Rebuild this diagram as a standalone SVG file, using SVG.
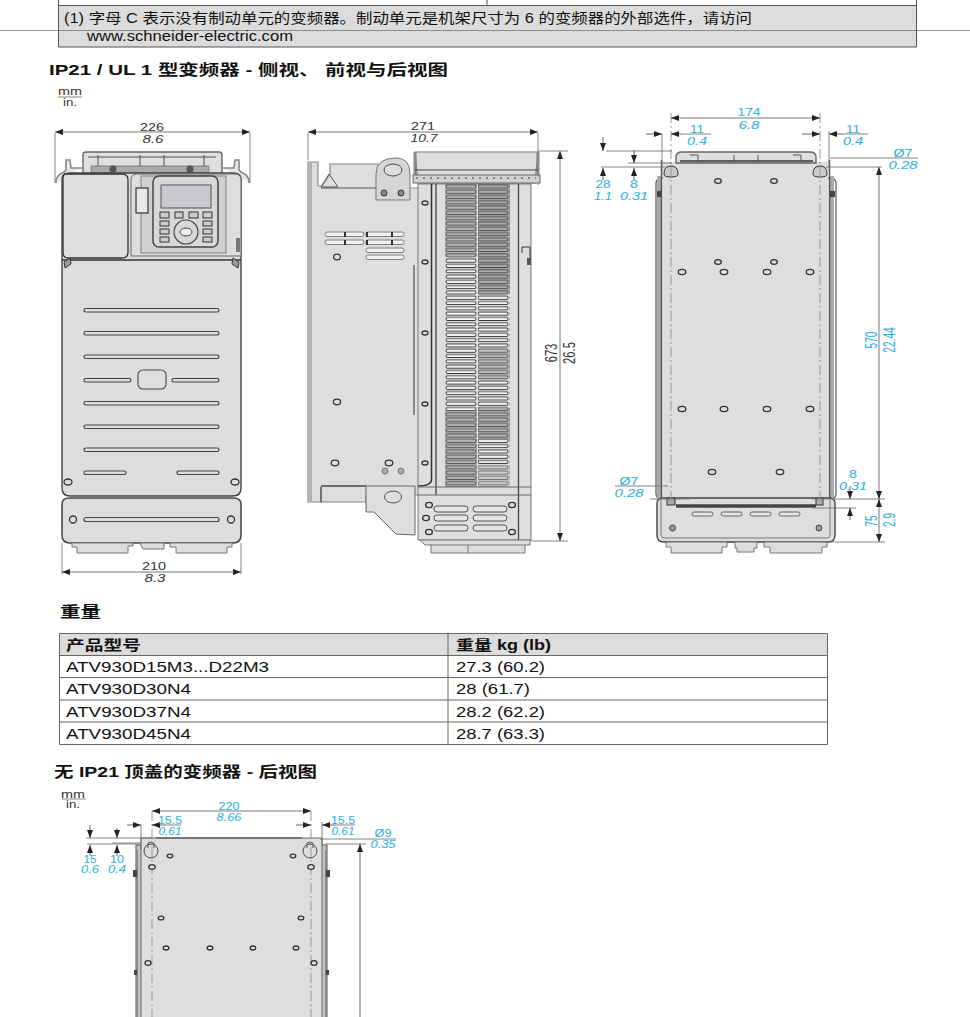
<svg xmlns="http://www.w3.org/2000/svg" width="970" height="1017" viewBox="0 0 970 1017">
<style>
text{font-family:"Liberation Sans","Noto Sans CJK SC",sans-serif;fill:#111}
.h{font-size:15px;font-weight:700}
.t{font-size:14px}
.tb{font-size:14px;font-weight:700}
.d{font-size:11px;text-anchor:middle;fill:#333}
.s{font-size:10.5px}
.i{font-style:italic}
.b{fill:#29aee3}
.u{font-size:11px;text-anchor:middle;fill:#333}
.v{font-size:16.5px;text-anchor:middle;fill:#333}
.vb{fill:#29aee3}
.dl{stroke:#777;stroke-width:.9;fill:none}
.ln{stroke:#555;stroke-width:1;fill:none}
.p{fill:#dcddde;stroke:#444;stroke-width:1}
.w{fill:#f0f0f0;stroke:#666;stroke-width:.8}
.dash{stroke:#999;stroke-width:1;stroke-dasharray:10 3 2 3;fill:none}
.slot{fill:#dcdee0;stroke:#444;stroke-width:1.2}
.hole{fill:#dcdee0;stroke:#333;stroke-width:1.3}
.key{fill:#ccc;stroke:#333;stroke-width:1}
.a{stroke:#555;stroke-width:.9;fill:none;marker-end:url(#ar)}
.aa{stroke:#666;stroke-width:.9;fill:none;marker-start:url(#ar);marker-end:url(#ar)}
</style>
<defs>
<marker id="ar" markerWidth="8" markerHeight="6" refX="8" refY="3" orient="auto-start-reverse" markerUnits="userSpaceOnUse"><path d="M0 0L8 3L0 6Z" fill="#222"/></marker>
<pattern id="louv" width="32" height="5.3" patternUnits="userSpaceOnUse" x="445" y="184"><rect x="1" y=".9" width="30" height="3" rx="1.5" fill="#f4f4f4" stroke="#333" stroke-width=".9"/></pattern>
</defs>

<g id="note-box">
<rect x="58" y="5" width="859" height="42" fill="#dcdcdc"/>
<path d="M0 30.5H970" stroke="#777" stroke-width=".8" fill="none"/>
<path d="M58.5 0V47H916.5V0M58 5.5H917M487 0V5" stroke="#555" stroke-width="1" fill="none"/>
<text class="t" x="64" y="23" textLength="688" lengthAdjust="spacingAndGlyphs">(1) 字母 C 表示没有制动单元的变频器。制动单元是机架尺寸为 6 的变频器的外部选件，请访问</text>
<text class="t" x="87" y="41" textLength="206" lengthAdjust="spacingAndGlyphs">www.schneider-electric.com</text>
</g>

<g id="heading-1">
<text class="h" x="49" y="75" textLength="399" lengthAdjust="spacingAndGlyphs">IP21 / UL 1 型变频器 - 侧视、 前视与后视图</text>
<text class="u" x="70" y="95" textLength="24" lengthAdjust="spacingAndGlyphs">mm</text><path d="M58 97H82" class="dl"/><text class="u" x="70" y="106" textLength="14" lengthAdjust="spacingAndGlyphs">in.</text>
</g>

<g id="front-view">
<path d="M55 133V183M250 133V183M62 543V574M241 543V574" class="dl"/>
<path d="M55 132H250" class="aa"/><path d="M62 572H241" class="aa"/>
<text class="d" x="152" y="131" textLength="24" lengthAdjust="spacingAndGlyphs">226</text><text class="d i" x="153" y="143" textLength="21" lengthAdjust="spacingAndGlyphs">8.6</text>
<text class="d" x="154" y="570" textLength="24" lengthAdjust="spacingAndGlyphs">210</text><text class="d i" x="155" y="582" textLength="21" lengthAdjust="spacingAndGlyphs">8.3</text>
<rect x="83" y="152" width="139" height="22" rx="3" fill="#dcdee0" stroke="#666" stroke-width="1.4"/>
<path d="M88 157H216M98 155V172M140 155V172M164 155V172M204 155V172" class="ln"/>
<path d="M56 183Q55 176 64 172L66 170V160H70L71 168H82M249 183Q250 176 241 172L239 170V160H235L234 168H223" fill="#e8e8e8" stroke="#888" stroke-width="1.6"/>
<rect x="91" y="166" width="118" height="7" fill="#aaa" stroke="#555" stroke-width=".6"/>
<circle cx="113" cy="169" r="3.6" fill="#555"/><circle cx="190" cy="169" r="3.6" fill="#555"/>
<path d="M62 179Q62 173 70 173H233Q241 173 241 179V488Q241 496 233 496H70Q62 496 62 488Z" class="p" style="stroke-width:1.4"/>
<path d="M66 174H122Q128 174 128 180V252Q128 258 122 258H68Q63 258 63 252V178Q63 174 66 174Z" fill="#dcdee0" stroke="#333" stroke-width="1.3"/>
<path d="M62 260H241" stroke="#333" stroke-width="1.5" fill="none"/>
<path d="M131 180Q131 174 137 174H235Q241 174 241 180V256H131Z" fill="#dcdee0" stroke="#666"/>
<rect x="141" y="176" width="85" height="77" fill="#d0d0d0" stroke="#666" stroke-width=".8"/>
<rect x="136" y="188" width="12" height="25" fill="#e8e8e8" stroke="#333" stroke-width="1.2"/>
<rect x="153" y="176" width="65" height="71" rx="6" fill="#d6d8da" stroke="#444" stroke-width="1.5"/>
<rect x="161" y="185" width="50" height="23" fill="#c8cacd" stroke="#555"/>
<rect class="key" x="160" y="212" width="9" height="6"/><rect class="key" x="175" y="212" width="8" height="6"/><rect class="key" x="189" y="212" width="9" height="6"/><rect class="key" x="203" y="212" width="9" height="6"/>
<rect class="key" x="160" y="221" width="9" height="5"/><rect class="key" x="160" y="229" width="9" height="5"/><rect class="key" x="160" y="237" width="9" height="5"/>
<rect class="key" x="203" y="221" width="9" height="5"/><rect class="key" x="203" y="229" width="9" height="5"/><rect class="key" x="203" y="237" width="9" height="5"/>
<circle cx="186" cy="232" r="12" fill="#d6d8da" stroke="#444" stroke-width="1.2"/><ellipse cx="186" cy="232" rx="6" ry="4" fill="#eee" stroke="#444"/>
<rect x="236" y="238" width="4" height="14" fill="#777"/>
<path d="M64 262L70 258 71 264 65 268ZM239 262L233 258 232 264 238 268Z" fill="#999" stroke="#333"/>
<g class="slot"><rect x="84" y="308.500" width="135" height="3.500" rx="1.700"/><rect x="84" y="331.500" width="135" height="3.500" rx="1.700"/><rect x="84" y="355" width="135" height="3.500" rx="1.700"/><rect x="84" y="378.500" width="47" height="3.500" rx="1.700"/><rect x="172" y="378.500" width="47" height="3.500" rx="1.700"/><rect x="84" y="401.500" width="135" height="3.500" rx="1.700"/><rect x="84" y="425" width="135" height="3.500" rx="1.700"/><rect x="84" y="448" width="135" height="3.500" rx="1.700"/><rect x="84" y="471" width="42" height="3.500" rx="1.700"/><rect x="177" y="471" width="42" height="3.500" rx="1.700"/></g>
<rect x="138" y="370" width="28" height="19" rx="5" fill="#dcdee0" stroke="#444" stroke-width="1.1"/>
<ellipse class="hole" cx="68" cy="482" rx="4" ry="3"/><ellipse class="hole" cx="235" cy="482" rx="4" ry="3"/>
<path d="M70 498H233Q241 498 241 504V535Q241 543 233 543H70Q62 543 62 535V504Q62 498 70 498Z" class="p" style="stroke-width:1.5"/>
<rect class="slot" x="84" y="517.500" width="135" height="4" rx="2"/>
<circle class="hole" cx="73" cy="519.500" r="3.500"/><circle class="hole" cx="231" cy="519.500" r="3.500"/>
<path d="M72 543H133V546H128V553H77V547H72ZM140 543H164V549H143ZM170 543H232V547H227V553H176V547H170Z" fill="#ddd" stroke="#777"/>
</g>

<g id="side-view">
<path d="M308 133V160M538 133V185M538 151H568M531 541H568" class="dl"/>
<path d="M308 132H538" class="aa"/>
<path d="M560 151V541" class="aa"/>
<text class="d" x="423" y="130" textLength="24" lengthAdjust="spacingAndGlyphs">271</text><text class="d i" x="424" y="142" textLength="27" lengthAdjust="spacingAndGlyphs">10.7</text>
<g transform="translate(557 353) rotate(-90) scale(.68 1)"><text class="v">673</text></g>
<g transform="translate(575 353) rotate(-90) scale(.68 1)"><text class="v">26.5</text></g>
<path d="M308 162H318V186H322L330 174V164H378V188H420V495H366V502H308Z" fill="#dcdee0" stroke="#888" stroke-width="1.2"/>
<rect x="308" y="162" width="4" height="340" fill="#b4b4b4"/>
<path d="M321 187L329 174 338 187ZM321 188H376" stroke="#555" fill="none"/>
<path d="M376 174Q376 158 396 158Q410 158 410 174V200H376Z" fill="#d4d6d8" stroke="#777"/>
<ellipse cx="393" cy="170" rx="9" ry="6" fill="#ddd" stroke="#444"/>
<circle cx="384" cy="193" r="3" fill="#888" stroke="#333"/><circle cx="401" cy="193" r="3" fill="#888" stroke="#333"/>
<g class="w"><rect x="325" y="232" width="39" height="4.500" rx="2"/><rect x="366" y="232" width="38" height="4.500" rx="2"/><rect x="325" y="240" width="39" height="4.500" rx="2"/><rect x="366" y="240" width="38" height="4.500" rx="2"/><rect x="366" y="248" width="38" height="4.500" rx="2"/><rect x="366" y="255" width="38" height="4.500" rx="2"/></g>
<path d="M345 232V237M345 240V245M367 232V237M367 240V245M392 232V237M392 240V245" stroke="#222" stroke-width="1.800" fill="none"/>
<ellipse class="hole" cx="337" cy="257" rx="3.400" ry="2.800"/><ellipse class="hole" cx="337" cy="402" rx="3.600" ry="2.800"/><ellipse class="hole" cx="335" cy="463" rx="3.800" ry="2.800"/><ellipse class="hole" cx="389" cy="463" rx="3.800" ry="2.800"/>
<circle cx="385" cy="471" r="3" fill="#aaa" stroke="#777"/><circle cx="401" cy="471" r="3" fill="#aaa" stroke="#777"/>
<path d="M414 265V415" stroke="#888" stroke-width="2" fill="none"/>
<path d="M366 486V512H374L396 534L415 535V486Z" fill="#dcdee0" stroke="#666"/>
<ellipse cx="393" cy="497" rx="8.500" ry="6" fill="#ddd" stroke="#555"/>
<path d="M321 486H366M321 487V502" stroke="#444" stroke-width="1.400" fill="none"/>
<rect x="418" y="184" width="113" height="356" fill="#dcdee0" stroke="#777"/>
<path d="M431.500 184V480Q431 486 418 486" stroke="#333" stroke-width="1.500" fill="none"/>
<path d="M436 184V495M518.500 184V544" stroke="#444" stroke-width="1.300" fill="none"/>
<rect x="445" y="184" width="32" height="303" fill="url(#louv)"/>
<rect x="478" y="184" width="32" height="303" fill="url(#louv)"/>
<g opacity=".5"><rect x="445" y="184" width="32" height="72" fill="#777"/><rect x="478" y="184" width="32" height="110" fill="#666"/><rect x="478" y="350" width="32" height="28" fill="#888"/><rect x="445" y="410" width="32" height="77" fill="#777"/><rect x="478" y="408" width="32" height="32" fill="#777"/><rect x="478" y="465" width="32" height="22" fill="#aaa"/></g>
<g class="hole"><ellipse cx="425" cy="203" rx="3" ry="2"/><ellipse cx="425" cy="262" rx="3" ry="2"/><ellipse cx="425" cy="333" rx="3" ry="2"/><ellipse cx="425" cy="404" rx="3" ry="2"/><ellipse cx="425" cy="463" rx="3" ry="2"/></g>
<path d="M522 253V247H530V264" fill="none" stroke="#333"/><rect x="527" y="258" width="4" height="7" fill="#555"/>
<path d="M418 487H531M418 495H531" stroke="#666" fill="none"/>
<g class="hole"><ellipse cx="429" cy="505" rx="3.400" ry="2.600"/><ellipse cx="512" cy="505" rx="3.400" ry="2.600"/><ellipse cx="426" cy="518" rx="3.400" ry="2.600"/><ellipse cx="429" cy="532" rx="3.400" ry="2.600"/><ellipse cx="512" cy="532" rx="3.400" ry="2.600"/></g>
<g fill="#e4e5e6" stroke="#555"><rect x="434" y="506" width="34" height="6" rx="3"/><rect x="473" y="506" width="34" height="6" rx="3"/><rect x="434" y="515" width="34" height="6" rx="3"/><rect x="473" y="515" width="34" height="6" rx="3"/><rect x="434" y="525" width="34" height="6" rx="3"/><rect x="473" y="525" width="34" height="6" rx="3"/></g>
<path d="M420 540H530V545H525V553H431V545H425Z" fill="#ddd" stroke="#777"/>
<path d="M468 545V553M431 545H525" stroke="#777" fill="none"/>
<path d="M415 152H538L535 183H418Z" fill="#dcdee0" stroke="#777" stroke-width="1.200"/>
<path d="M415 152V178M538 152V178" stroke="#888" stroke-width="3" fill="none"/>
<path d="M415 170H538" stroke="#444" fill="none"/>
<rect x="413" y="175" width="127" height="8" fill="#d0d2d4" stroke="#666"/>
<path d="M416 178H536" stroke="#333" stroke-width="1.200" stroke-dasharray="2 5" fill="none"/>
</g>

<g id="rear-view">
<rect x="656" y="178" width="180" height="321" rx="5" fill="#fff" stroke="#555" stroke-width="1.200"/>
<path d="M659 176V499M832 176V499" stroke="#aaa" stroke-width="4" fill="none"/>
<path d="M661.500 160V500M829.500 160V500" stroke="#555" stroke-width="1.500" fill="none"/>
<rect x="663" y="162" width="165" height="340" fill="#dcdee0"/>
<path d="M676 163V157Q676 152 682 152H810Q816 152 816 157V163Z" fill="#dcdee0" stroke="#666" stroke-width="1.400"/>
<path d="M680 161H813" stroke="#333" stroke-width="1.300" fill="none"/>
<path d="M690 155H698V161M734 155V161M758 155V161M793 155H801V161" class="ln"/>
<path d="M664 174Q664 166 671 166Q678 166 678 174Q678 177 671 177Q664 177 664 174ZM813 174Q813 166 820 166Q827 166 827 174Q827 177 820 177Q813 177 813 174Z" fill="#c8cacc" stroke="#333"/>
<rect x="657" y="191" width="5" height="6" fill="#444"/><rect x="830" y="191" width="5" height="6" fill="#444"/>
<g class="hole"><ellipse cx="718" cy="181" rx="3.300" ry="2.300"/><ellipse cx="774" cy="181" rx="3.300" ry="2.300"/><ellipse cx="718" cy="262" rx="3.300" ry="2.300"/><ellipse cx="774" cy="262" rx="3.300" ry="2.300"/><ellipse cx="682" cy="272" rx="3.800" ry="2.600"/><ellipse cx="724" cy="272" rx="3.800" ry="2.600"/><ellipse cx="767" cy="272" rx="3.800" ry="2.600"/><ellipse cx="810" cy="272" rx="3.800" ry="2.600"/><ellipse cx="682" cy="409" rx="3.800" ry="2.600"/><ellipse cx="724" cy="409" rx="3.800" ry="2.600"/><ellipse cx="767" cy="409" rx="3.800" ry="2.600"/><ellipse cx="810" cy="409" rx="3.800" ry="2.600"/><ellipse cx="712" cy="472" rx="3.800" ry="2.600"/><ellipse cx="780" cy="472" rx="3.800" ry="2.600"/></g>
<path d="M657 503Q657 498 664 498H828Q835 498 835 503V535Q835 542 828 542H664Q657 542 657 535Z" fill="#dcdee0" stroke="#444" stroke-width="1.400"/>
<path d="M661 500V535Q661 538 665 538H827Q830 538 830 535V500" stroke="#777" fill="none"/>
<path d="M676 506H816" stroke="#444" stroke-width="3.400" fill="none"/>
<rect x="667" y="498" width="8" height="7" fill="#aaa" stroke="#333"/><rect x="816" y="498" width="7" height="7" fill="#aaa" stroke="#333"/>
<g fill="#e4e5e6" stroke="#666"><rect x="692" y="512" width="21" height="4" rx="2"/><rect x="721" y="512" width="21" height="4" rx="2"/><rect x="750" y="512" width="21" height="4" rx="2"/><rect x="779" y="512" width="21" height="4" rx="2"/></g>
<circle cx="672.500" cy="528" r="3" fill="#999" stroke="#444"/><circle cx="819" cy="528" r="3" fill="#999" stroke="#444"/>
<path d="M666 542H727V547H722V553H671V547H666ZM735 542H757V548H754V552H737V548H735ZM764 542H827V547H822V553H770V547H764Z" fill="#ddd" stroke="#777"/>
<path d="M671 113V499M820 113V499" class="dash"/>
<path d="M662 134V175M829 131V170M606 151H672M628 163H672M601 167H665M830 158H918M826 167H882M615 486H668M650 499H690M812 499H885M812 508H856M820 542H885M682 134H711M843 134H868" class="dl"/>
<path d="M671 118H820" class="aa"/>
<path d="M646 134H662" class="a"/><path d="M682 134H671" class="a"/><path d="M802 134H820" class="a"/><path d="M843 134H829" class="a"/>
<path d="M603 137V151" class="a"/><path d="M603 180V168" class="a"/><path d="M634 150V163" class="a"/><path d="M634 180V168" class="a"/>
<path d="M850 486V499" class="a"/><path d="M850 520V508" class="a"/>
<path d="M879 167V499" class="aa"/><path d="M879 499V542" class="aa"/>
<text class="d b" x="749" y="116" textLength="23" lengthAdjust="spacingAndGlyphs">174</text><text class="d b i" x="749" y="129" textLength="21" lengthAdjust="spacingAndGlyphs">6.8</text>
<text class="d b" x="697" y="133" textLength="14" lengthAdjust="spacingAndGlyphs">11</text><text class="d b i" x="697" y="145" textLength="20" lengthAdjust="spacingAndGlyphs">0.4</text>
<text class="d b" x="853" y="133" textLength="14" lengthAdjust="spacingAndGlyphs">11</text><text class="d b i" x="853" y="145" textLength="20" lengthAdjust="spacingAndGlyphs">0.4</text>
<text class="d b" x="603" y="188" textLength="15" lengthAdjust="spacingAndGlyphs">28</text><text class="d b i" x="603" y="200" textLength="18" lengthAdjust="spacingAndGlyphs">1.1</text>
<text class="d b" x="634" y="188" textLength="8" lengthAdjust="spacingAndGlyphs">8</text><text class="d b i" x="634" y="200" textLength="28" lengthAdjust="spacingAndGlyphs">0.31</text>
<text class="d b" x="903" y="157" textLength="19" lengthAdjust="spacingAndGlyphs">Ø7</text><text class="d b i" x="903" y="169" textLength="29" lengthAdjust="spacingAndGlyphs">0.28</text>
<text class="d b" x="629" y="485" textLength="19" lengthAdjust="spacingAndGlyphs">Ø7</text><text class="d b i" x="629" y="497" textLength="29" lengthAdjust="spacingAndGlyphs">0.28</text>
<text class="d b" x="853" y="478" textLength="8" lengthAdjust="spacingAndGlyphs">8</text><text class="d b i" x="853" y="490" textLength="28" lengthAdjust="spacingAndGlyphs">0.31</text>
<g transform="translate(877 340) rotate(-90) scale(.62 1)"><text class="v vb">570</text></g>
<g transform="translate(895 340) rotate(-90) scale(.62 1)"><text class="v vb">22.44</text></g>
<g transform="translate(877 521) rotate(-90) scale(.62 1)"><text class="v vb">75</text></g>
<g transform="translate(895 520) rotate(-90) scale(.62 1)"><text class="v vb">2.9</text></g>
</g>

<g id="weight-table">
<text class="h" x="60" y="617" textLength="41" lengthAdjust="spacingAndGlyphs">重量</text>
<rect x="59.500" y="633.500" width="768" height="22" fill="#dcdcdc"/>
<path d="M59.500 633.500H827.500V744.500H59.500ZM59.500 655.500H827.500M59.500 677.500H827.500M59.500 700H827.500M59.500 722H827.500M448 633.500V744.500" stroke="#666" stroke-width="1" fill="none"/>
<text class="tb" x="66" y="650" textLength="75" lengthAdjust="spacingAndGlyphs">产品型号</text><text class="tb" x="456" y="650" textLength="95" lengthAdjust="spacingAndGlyphs">重量 kg (lb)</text>
<text class="t" x="66" y="672" textLength="203" lengthAdjust="spacingAndGlyphs">ATV930D15M3...D22M3</text><text class="t" x="456" y="672" textLength="89" lengthAdjust="spacingAndGlyphs">27.3 (60.2)</text>
<text class="t" x="66" y="694" textLength="125" lengthAdjust="spacingAndGlyphs">ATV930D30N4</text><text class="t" x="456" y="694" textLength="74" lengthAdjust="spacingAndGlyphs">28 (61.7)</text>
<text class="t" x="66" y="717" textLength="125" lengthAdjust="spacingAndGlyphs">ATV930D37N4</text><text class="t" x="456" y="717" textLength="89" lengthAdjust="spacingAndGlyphs">28.2 (62.2)</text>
<text class="t" x="66" y="739" textLength="125" lengthAdjust="spacingAndGlyphs">ATV930D45N4</text><text class="t" x="456" y="739" textLength="89" lengthAdjust="spacingAndGlyphs">28.7 (63.3)</text>
</g>

<g id="heading-2">
<text class="h" x="54" y="777" textLength="263" lengthAdjust="spacingAndGlyphs">无 IP21 顶盖的变频器 - 后视图</text>
<text class="u" x="73" y="798" textLength="24" lengthAdjust="spacingAndGlyphs">mm</text><path d="M62 799H86" class="dl"/><text class="u" x="73" y="808" textLength="14" lengthAdjust="spacingAndGlyphs">in.</text>
</g>

<g id="rear-view-no-cover">
<rect x="136" y="845" width="191" height="180" fill="#c0c2c4" stroke="#555"/>
<path d="M137 850V1017M326 850V1017" stroke="#888" stroke-width="2" fill="none"/>
<rect x="141" y="838" width="181" height="190" fill="#dcdee0" stroke="#666"/>
<path d="M156 838H302" stroke="#777" stroke-width="2" fill="none"/>
<circle cx="151" cy="851" r="7" fill="#ddd" stroke="#444"/><circle cx="310" cy="851" r="7" fill="#ddd" stroke="#444"/>
<path d="M148 848V843Q151 841 154 843V848M307 848V843Q310 841 313 843V848" stroke="#555" fill="none"/>
<rect x="133" y="870" width="4" height="7" fill="#444"/><rect x="326" y="870" width="4" height="7" fill="#444"/>
<rect x="134" y="970" width="3" height="5" fill="#444"/><rect x="326" y="970" width="3" height="5" fill="#444"/>
<path d="M152 811V1017M311 811V1017" class="dash"/>
<g class="hole"><ellipse cx="170" cy="856" rx="2.800" ry="1.800"/><ellipse cx="293" cy="856" rx="2.800" ry="1.800"/><ellipse cx="152" cy="867" rx="3.200" ry="2.400"/><ellipse cx="311" cy="867" rx="3.200" ry="2.400"/><ellipse cx="161" cy="918" rx="2.800" ry="1.900"/><ellipse cx="301" cy="918" rx="2.800" ry="1.900"/><ellipse cx="166" cy="948" rx="2.800" ry="2"/><ellipse cx="210" cy="948" rx="2.800" ry="2"/><ellipse cx="253" cy="948" rx="2.800" ry="2"/><ellipse cx="296" cy="948" rx="2.800" ry="2"/><ellipse cx="148" cy="963" rx="3" ry="2.300"/><ellipse cx="314" cy="963" rx="3" ry="2.300"/></g>
<path d="M141 825V850M322 822V845M86 838H152M112 843H140M87 844H140M320 839H396M325 844H366M165 825H181M335 825H355" class="dl"/>
<path d="M127 825H141" class="a"/><path d="M165 825H152" class="a"/><path d="M296 825H311" class="a"/><path d="M335 825H322" class="a"/>
<path d="M152 811H311" class="aa"/>
<path d="M90 825V838" class="a"/><path d="M90 856V845" class="a"/><path d="M117 828V838" class="a"/><path d="M117 856V845" class="a"/>
<path d="M360 1017V844" class="a"/>
<text class="d b s" x="229" y="810" textLength="21" lengthAdjust="spacingAndGlyphs">220</text><text class="d b i s" x="229" y="821" textLength="25" lengthAdjust="spacingAndGlyphs">8.66</text>
<text class="d b s" x="170" y="824" textLength="24" lengthAdjust="spacingAndGlyphs">15.5</text><text class="d b i s" x="170" y="835" textLength="23" lengthAdjust="spacingAndGlyphs">0.61</text>
<text class="d b s" x="343" y="824" textLength="24" lengthAdjust="spacingAndGlyphs">15.5</text><text class="d b i s" x="343" y="835" textLength="23" lengthAdjust="spacingAndGlyphs">0.61</text>
<text class="d b s" x="383" y="837" textLength="17" lengthAdjust="spacingAndGlyphs">Ø9</text><text class="d b i s" x="383" y="848" textLength="25" lengthAdjust="spacingAndGlyphs">0.35</text>
<text class="d b s" x="90" y="863" textLength="13" lengthAdjust="spacingAndGlyphs">15</text><text class="d b i s" x="90" y="873" textLength="18" lengthAdjust="spacingAndGlyphs">0.6</text>
<text class="d b s" x="117" y="863" textLength="14" lengthAdjust="spacingAndGlyphs">10</text><text class="d b i s" x="117" y="873" textLength="18" lengthAdjust="spacingAndGlyphs">0.4</text>
</g>
</svg>
